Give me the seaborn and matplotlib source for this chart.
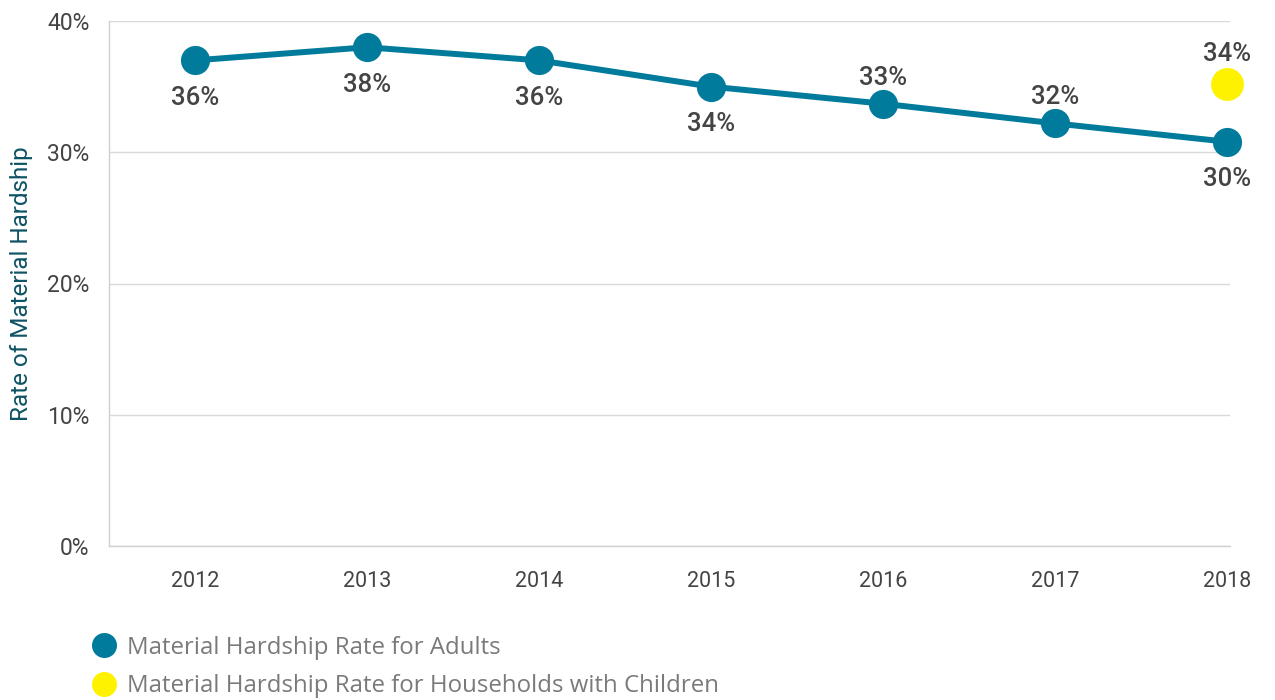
import matplotlib
matplotlib.use("Agg")
import matplotlib.pyplot as plt
import seaborn as sns
import pandas as pd
from matplotlib.lines import Line2D

years = [2012, 2013, 2014, 2015, 2016, 2017, 2018]
adults = [37.0, 38.0, 37.0, 35.0, 33.7, 32.2, 30.8]
adult_labels = ["36%", "38%", "36%", "34%", "33%", "32%", "30%"]
label_below = [True, True, True, True, False, False, True]
child_years = [2018]
children = [35.2]
child_labels = ["34%"]
y_ticks = [0, 10, 20, 30, 40]
y_tick_labels = ["0%", "10%", "20%", "30%", "40%"]

BLUE = "#007B9B"
YELLOW = "#FFF200"
TEXT = "#444444"

sns.set_style("white")
plt.rcParams["font.family"] = ["Roboto", "DejaVu Sans"]

fig = plt.figure(figsize=(12.75, 7), dpi=100)
ax = fig.add_axes([0.0855, 0.22, 0.8795, 0.75])

df = pd.DataFrame({"year": years, "rate": adults})
dfc = pd.DataFrame({"year": child_years, "rate": children})

sns.lineplot(data=df, x="year", y="rate", ax=ax, color=BLUE, linewidth=4.3,
             marker="o", markersize=21, markeredgewidth=0, zorder=3, clip_on=False)
sns.scatterplot(data=dfc, x="year", y="rate", ax=ax, color=YELLOW, s=560,
                linewidth=0, zorder=3, clip_on=False)

for x, y, lab, below in zip(years, adults, adult_labels, label_below):
    off = -18.5 if below else 10
    ax.annotate(lab, (x, y), xytext=(0, off), textcoords="offset points",
                ha="center", va="top" if below else "bottom", fontsize=18.5,
                color=TEXT, fontweight="medium", annotation_clip=False)
for x, y, lab in zip(child_years, children, child_labels):
    ax.annotate(lab, (x, y), xytext=(0, 13), textcoords="offset points",
                ha="center", va="bottom", fontsize=18.5, color=TEXT,
                fontweight="medium", annotation_clip=False)

ax.set_xlim(2011.5, 2018.02)
ax.set_ylim(0, 40)
ax.set_yticks(y_ticks)
ax.set_yticklabels(y_tick_labels)
ax.set_xticks(years)
ax.set_xticklabels([str(y) for y in years])
ax.tick_params(axis="x", length=0, labelsize=15.5, labelcolor=TEXT, pad=18)
ax.tick_params(axis="y", length=0, labelsize=16.5, labelcolor=TEXT, pad=14)
ax.grid(axis="y", color="#d9d9d9", linewidth=1)
ax.set_axisbelow(True)
for s in ["top", "right"]:
    ax.spines[s].set_visible(False)
for s in ["left", "bottom"]:
    ax.spines[s].set_color("#d0d0d0")
    ax.spines[s].set_linewidth(1)
ax.set_xlabel("")
ax.set_ylabel("Rate of Material Hardship", fontsize=17.5, color="#0E5364", labelpad=10)

handles = [
    Line2D([], [], marker="o", linestyle="none", color=BLUE, markersize=17),
    Line2D([], [], marker="o", linestyle="none", color=YELLOW, markersize=17),
]
labels = ["Material Hardship Rate for Adults",
          "Material Hardship Rate for Households with Children"]
leg = fig.legend(handles, labels, loc="upper left", bbox_to_anchor=(0.072, 0.092),
                 frameon=False,
                 prop={"family": ["Open Sans", "DejaVu Sans"], "size": 17.3},
                 handletextpad=0.45, labelspacing=0.62,
                 borderaxespad=0, handlelength=1.0, borderpad=0)
for t in leg.get_texts():
    t.set_color("#7a7a7a")

fig.savefig("out.png", dpi=100)
